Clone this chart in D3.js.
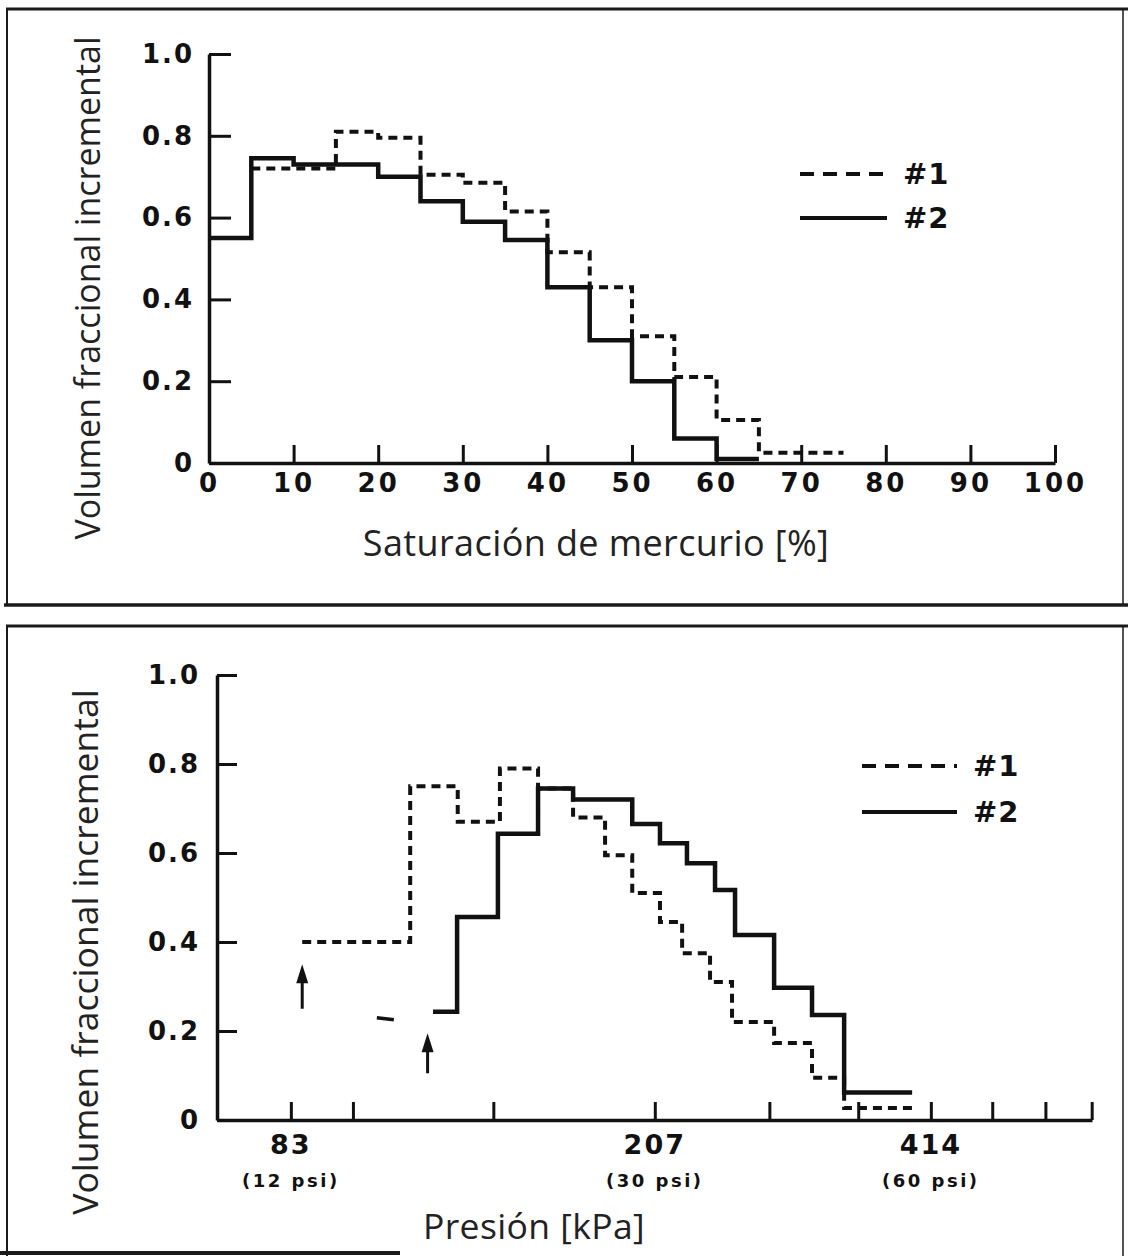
<!DOCTYPE html>
<html>
<head>
<meta charset="utf-8">
<script src="https://cdn.jsdelivr.net/npm/d3@7"></script>
<style>
  html, body { margin: 0; padding: 0; background: #ffffff; }
  svg { display: block; }
  .tick text { font-family: "DejaVu Sans", Verdana, sans-serif; font-weight: bold; fill: #111; }
</style>
</head>
<body>
<svg id="chart" width="1128" height="1256"></svg>
<script>
// ---------------- DATA ----------------
// Top panel: incremental fractional volume vs mercury saturation [%]
const satTicks = [0, 10, 20, 30, 40, 50, 60, 70, 80, 90, 100];
const volTicks = [0, 0.2, 0.4, 0.6, 0.8, 1.0];

const sat1Edges  = [5, 15, 20, 25, 30, 35, 40, 45, 50, 55, 60, 65, 75];
const sat1Values = [0.72, 0.81, 0.795, 0.705, 0.685, 0.615, 0.515, 0.43, 0.31, 0.21, 0.105, 0.025];

const sat2Edges  = [0, 5, 10, 20, 25, 30, 35, 40, 45, 50, 55, 60, 65];
const sat2Values = [0.55, 0.745, 0.73, 0.70, 0.64, 0.59, 0.545, 0.43, 0.30, 0.20, 0.06, 0.01];

// Bottom panel: incremental fractional volume vs pressure [kPa] (log axis)
const pressureDomain = [68.95, 620.5];
const pressureTicks  = [83, 97, 138, 207, 276, 345, 414, 483, 552, 620];
const pressureLabelValues = [83, 207, 414];
const pressureLabels = ["83", "207", "414"];
const psiLabels = ["(12 psi)", "(30 psi)", "(60 psi)"];

const p1Edges  = [85.4, 112.0, 126.2, 140.3, 154.4, 168.6, 182.7, 195.6, 209.7, 221.7, 237.8, 251.3, 279.3, 307.2, 333, 395];
const p1Values = [0.40, 0.75, 0.67, 0.79, 0.745, 0.68, 0.595, 0.51, 0.445, 0.375, 0.31, 0.22, 0.173, 0.095, 0.027];

const p2Edges  = [118.6, 126.0, 139.6, 154.4, 168.6, 195.6, 209.7, 224.4, 240.8, 253.2, 279.3, 307.2, 333, 395];
const p2Values = [0.243, 0.456, 0.643, 0.745, 0.72, 0.665, 0.622, 0.577, 0.517, 0.416, 0.297, 0.236, 0.062];

// threshold arrows (pressure, from value, to value)
const arrowPressures = [85.4, 117.0];
const arrowFrom = [0.25, 0.105];
const arrowTo   = [0.35, 0.195];
// short stray dash near the second arrow
const strayDashPressures = [103.0, 107.5];
const strayDashValue = 0.23;

const seriesNames = ["#1", "#2"];
const yTitle = "Volumen fraccional incremental";
const xTitleTop = "Saturación de mercurio [%]";
const xTitleBottom = "Presión [kPa]";

// ---------------- DRAW ----------------
const svg = d3.select("#chart");
svg.append("rect").attr("width", 1128).attr("height", 1256).attr("fill", "#ffffff");

// panel frames
const frame = svg.append("g").attr("fill", "none").attr("stroke", "#1a1a1a");
frame.append("line").attr("x1", 6).attr("x2", 1128).attr("y1", 9).attr("y2", 9).attr("stroke-width", 3);
frame.append("line").attr("x1", 7).attr("x2", 7).attr("y1", 9).attr("y2", 606).attr("stroke-width", 2);
frame.append("line").attr("x1", 1123).attr("x2", 1123).attr("y1", 9).attr("y2", 606).attr("stroke-width", 1.5);
frame.append("line").attr("x1", 4).attr("x2", 1128).attr("y1", 605).attr("y2", 605).attr("stroke-width", 3.5);
frame.append("line").attr("x1", 6).attr("x2", 1128).attr("y1", 626).attr("y2", 626).attr("stroke-width", 3);
frame.append("line").attr("x1", 7).attr("x2", 7).attr("y1", 626).attr("y2", 1256).attr("stroke-width", 2);
frame.append("line").attr("x1", 1123).attr("x2", 1123).attr("y1", 626).attr("y2", 1256).attr("stroke-width", 1.5);
frame.append("line").attr("x1", 0).attr("x2", 400).attr("y1", 1253).attr("y2", 1253).attr("stroke-width", 4);

function stepPoints(edges, values) {
  const pts = values.map((v, i) => [edges[i], v]);
  pts.push([edges[edges.length - 1], values[values.length - 1]]);
  return pts;
}

function drawPanel(cfg) {
  const g = svg.append("g");
  const x = cfg.x, y = cfg.y;

  // y axis
  const yAxis = d3.axisLeft(y).tickValues(volTicks)
    .tickSizeInner(-cfg.yTick).tickSizeOuter(0).tickPadding(cfg.yPad)
    .tickFormat(d => d === 0 ? "0" : d3.format(".1f")(d));
  const ya = g.append("g").attr("transform", `translate(${x.range()[0]},0)`).call(yAxis);
  ya.select(".domain").attr("stroke", "#111").attr("stroke-width", 3.5);
  ya.selectAll(".tick line").attr("stroke", "#111").attr("stroke-width", 3);
  ya.selectAll(".tick text").attr("font-size", 26).attr("letter-spacing", 2);

  // x axis
  const xAxis = d3.axisBottom(x).tickValues(cfg.xTicks)
    .tickSizeInner(-cfg.xTick).tickSizeOuter(0).tickPadding(cfg.xPad)
    .tickFormat(cfg.xFormat);
  const xa = g.append("g").attr("transform", `translate(0,${y(0)})`).call(xAxis);
  xa.select(".domain").attr("stroke", "#111").attr("stroke-width", 3.5);
  xa.selectAll(".tick line").attr("stroke", "#111").attr("stroke-width", 3);
  xa.selectAll(".tick text").attr("font-size", 26).attr("letter-spacing", 3);

  const line = d3.line().x(d => x(d[0])).y(d => y(d[1])).curve(d3.curveStepAfter);

  // series #1 (dashed)
  g.append("path").datum(stepPoints(cfg.e1, cfg.v1))
    .attr("d", line).attr("fill", "none").attr("stroke", "#111")
    .attr("stroke-width", 4).attr("stroke-dasharray", "9,6").attr("stroke-linejoin", "miter");
  // series #2 (solid)
  g.append("path").datum(stepPoints(cfg.e2, cfg.v2))
    .attr("d", line).attr("fill", "none").attr("stroke", "#111")
    .attr("stroke-width", 4.5).attr("stroke-linejoin", "miter");

  // legend
  const lg = g.append("g");
  const lx0 = cfg.legend[0], lx1 = cfg.legend[1];
  const ly = [cfg.legend[2], cfg.legend[3]];
  lg.append("line").attr("x1", lx0).attr("x2", lx1).attr("y1", ly[0]).attr("y2", ly[0])
    .attr("stroke", "#111").attr("stroke-width", 4).attr("stroke-dasharray", "14,9");
  lg.append("line").attr("x1", lx0).attr("x2", lx1).attr("y1", ly[1]).attr("y2", ly[1])
    .attr("stroke", "#111").attr("stroke-width", 4);
  seriesNames.forEach((s, i) => {
    lg.append("text").attr("x", lx1 + 16).attr("y", ly[i]).attr("dy", "0.36em")
      .attr("font-family", "DejaVu Sans, Verdana, sans-serif").attr("font-weight", "bold")
      .attr("font-size", 29).attr("letter-spacing", 1).attr("fill", "#111").text(s);
  });

  // y title
  g.append("text")
    .attr("transform", `translate(${cfg.yTitleX},${cfg.yTitleY}) rotate(-90)`)
    .attr("text-anchor", "middle").attr("dy", "0.35em")
    .attr("font-family", "Open Sans, sans-serif").attr("font-size", cfg.yTitleSize).attr("fill", "#222")
    .text(yTitle);
  // x title
  g.append("text").attr("x", cfg.xTitleX).attr("y", cfg.xTitleY)
    .attr("text-anchor", "middle")
    .attr("font-family", "Open Sans, sans-serif").attr("font-size", cfg.xTitleSize)
    .attr("letter-spacing", 0.4).attr("fill", "#222")
    .text(cfg.xTitle);
  return g;
}

// Top panel
const xTop = d3.scaleLinear().domain([0, 100]).range([209, 1055]);
const yTop = d3.scaleLinear().domain([0, 1]).range([463, 54]);
drawPanel({
  x: xTop, y: yTop, xTicks: satTicks, xFormat: d3.format("d"),
  yTick: 22, yPad: 15, xTick: 18, xPad: 11,
  e1: sat1Edges, v1: sat1Values, e2: sat2Edges, v2: sat2Values,
  legend: [800, 887, 174, 218],
  yTitleX: 88, yTitleY: 288, yTitleSize: 34,
  xTitleX: 596, xTitleY: 556, xTitleSize: 36, xTitle: xTitleTop
});

// Bottom panel
const xBot = d3.scaleLog().domain(pressureDomain).range([217, 1092]);
const yBot = d3.scaleLinear().domain([0, 1]).range([1120, 675]);
const gb = drawPanel({
  x: xBot, y: yBot, xTicks: pressureTicks, xFormat: () => "",
  yTick: 20, yPad: 17, xTick: 18, xPad: 12,
  e1: p1Edges, v1: p1Values, e2: p2Edges, v2: p2Values,
  legend: [862, 957, 766, 812],
  yTitleX: 86, yTitleY: 952, yTitleSize: 35.5,
  xTitleX: 534, xTitleY: 1239, xTitleSize: 35.5, xTitle: xTitleBottom
});

// pressure labels with psi subtitles
pressureLabelValues.forEach((v, i) => {
  gb.append("text").attr("x", xBot(v)).attr("y", 1154).attr("text-anchor", "middle")
    .attr("font-family", "DejaVu Sans, Verdana, sans-serif").attr("font-weight", "bold")
    .attr("font-size", 27).attr("letter-spacing", 2).attr("fill", "#111").text(pressureLabels[i]);
  gb.append("text").attr("x", xBot(v)).attr("y", 1187).attr("text-anchor", "middle")
    .attr("font-family", "DejaVu Sans, Verdana, sans-serif").attr("font-weight", "bold")
    .attr("font-size", 18).attr("letter-spacing", 2.5).attr("fill", "#111").text(psiLabels[i]);
});

// threshold arrows
arrowPressures.forEach((p, i) => {
  const ax = xBot(p), yTip = yBot(arrowTo[i]), yTail = yBot(arrowFrom[i]);
  gb.append("line").attr("x1", ax).attr("x2", ax).attr("y1", yTip + 10).attr("y2", yTail)
    .attr("stroke", "#111").attr("stroke-width", 3);
  gb.append("path")
    .attr("d", `M${ax},${yTip} L${ax - 6},${yTip + 19} L${ax + 6},${yTip + 19} Z`)
    .attr("fill", "#111");
});

// stray dash
gb.append("line")
  .attr("x1", xBot(strayDashPressures[0])).attr("x2", xBot(strayDashPressures[1]))
  .attr("y1", yBot(strayDashValue)).attr("y2", yBot(strayDashValue) + 2)
  .attr("stroke", "#111").attr("stroke-width", 3.5);
</script>
</body>
</html>
